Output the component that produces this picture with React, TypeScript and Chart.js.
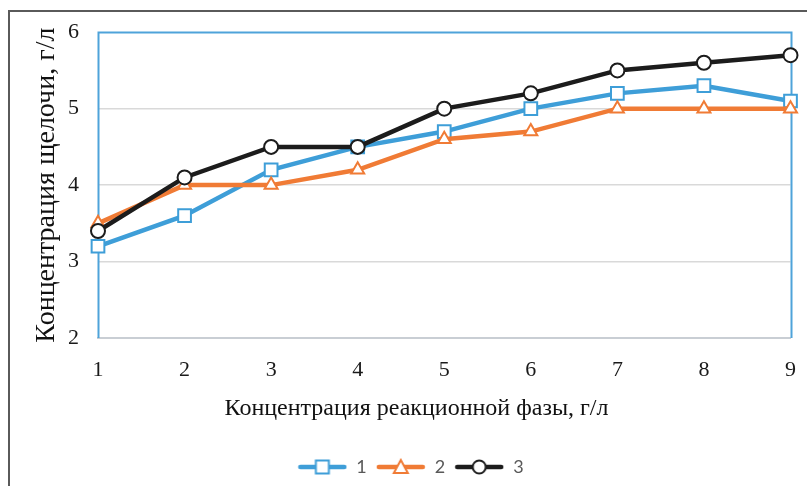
import React, { useEffect, useRef } from "react";
import { Chart, registerables } from "chart.js";

Chart.register(...registerables);

const categories = ["1", "2", "3", "4", "5", "6", "7", "8", "9"];
const series1 = [3.2, 3.6, 4.2, 4.5, 4.7, 5.0, 5.2, 5.3, 5.1];
const series2 = [3.5, 4.0, 4.0, 4.2, 4.6, 4.7, 5.0, 5.0, 5.0];
const series3 = [3.4, 4.1, 4.5, 4.5, 5.0, 5.2, 5.5, 5.6, 5.7];
const seriesNames = ["1", "2", "3"];
const yTitle = "Концентрация щелочи, г/л";
const xTitle = "Концентрация реакционной фазы, г/л";

const BLUE = "#3e9ed8";
const ORANGE = "#f07b35";
const BLACK = "#1c1c1c";
const SERIF = "'Liberation Serif', 'DejaVu Serif', serif";

function legendIcon(color: string, style: string): HTMLCanvasElement {
  const c = document.createElement("canvas");
  c.width = 50;
  c.height = 18;
  const ctx = c.getContext("2d")!;
  ctx.strokeStyle = color;
  ctx.lineWidth = 4.5;
  ctx.lineCap = "round";
  ctx.beginPath();
  ctx.moveTo(3, 9);
  ctx.lineTo(47, 9);
  ctx.stroke();
  ctx.fillStyle = "#fff";
  ctx.lineWidth = 2;
  ctx.lineCap = "butt";
  ctx.beginPath();
  if (style === "rect") {
    ctx.rect(18.5, 2.5, 13, 13);
  } else if (style === "triangle") {
    ctx.moveTo(25, 2);
    ctx.lineTo(32, 15);
    ctx.lineTo(18, 15);
    ctx.closePath();
  } else {
    ctx.arc(25, 9, 6.5, 0, Math.PI * 2);
  }
  ctx.fill();
  ctx.stroke();
  return c;
}

const framePlugin = {
  id: "framePlugin",
  beforeDraw(chart: any) {
    const ctx = chart.ctx;
    ctx.save();
    ctx.fillStyle = "#fff";
    ctx.fillRect(0, 0, chart.width, chart.height);
    ctx.strokeStyle = "#5a5a5a";
    ctx.lineWidth = 2;
    ctx.strokeRect(9, 11, 1000, 1000);
    ctx.restore();
  },
  beforeDatasetsDraw(chart: any) {
    const { ctx, chartArea } = chart;
    const l = Math.round(chartArea.left) + 0.5;
    const r = Math.round(chartArea.right) + 0.5;
    const t = Math.round(chartArea.top) + 0.5;
    const b = Math.round(chartArea.bottom);
    ctx.save();
    ctx.strokeStyle = "#4ea3da";
    ctx.lineWidth = 2;
    ctx.beginPath();
    ctx.moveTo(l, b);
    ctx.lineTo(l, t);
    ctx.lineTo(r, t);
    ctx.lineTo(r, b);
    ctx.stroke();
    ctx.restore();
  },
  afterDraw(chart: any) {
    const { ctx, chartArea } = chart;
    ctx.save();
    ctx.fillStyle = "#111";
    ctx.font = `24px ${SERIF}`;
    ctx.textAlign = "center";
    ctx.textBaseline = "middle";
    const cx = chartArea.left + chartArea.width * 0.46;
    ctx.fillText(xTitle, cx, chartArea.bottom + 71);
    ctx.restore();
  },
};

export default function App() {
  const ref = useRef<HTMLCanvasElement | null>(null);
  useEffect(() => {
    if (!ref.current) return;
    const colors = [BLUE, ORANGE, BLACK];
    const styles = ["rect", "triangle", "circle"];
    const icons = colors.map((c, i) => legendIcon(c, styles[i]));
    const mk = (label: string, data: number[], color: string, style: string, order: number, radius: number) => ({
      label,
      data,
      borderColor: color,
      backgroundColor: "#ffffff",
      borderWidth: 4.5,
      pointStyle: style,
      pointRadius: radius,
      pointBorderWidth: 2,
      pointBorderColor: color,
      pointBackgroundColor: "#ffffff",
      tension: 0,
      order,
    });
    const chart = new Chart(ref.current, {
      type: "line",
      data: {
        labels: categories,
        datasets: [
          mk(seriesNames[0], series1, BLUE, "rect", 3, 9),
          mk(seriesNames[1], series2, ORANGE, "triangle", 2, 7.5),
          mk(seriesNames[2], series3, BLACK, "circle", 1, 7),
        ],
      },
      options: {
        animation: false,
        responsive: false,
        layout: { padding: { left: 30, right: 16, top: 30, bottom: 0 } },
        plugins: {
          tooltip: { enabled: false },
          legend: {
            position: "bottom",
            labels: {
              usePointStyle: true,
              pointStyleWidth: 50,
              boxHeight: 18,
              padding: 9,
              color: "#595959",
              font: { family: "Lato, 'Open Sans', sans-serif", size: 18 },
              generateLabels: () =>
                seriesNames.map((n, i) => ({
                  text: n,
                  pointStyle: icons[i] as any,
                  fillStyle: "#fff",
                  strokeStyle: colors[i],
                  lineWidth: 0,
                  hidden: false,
                  datasetIndex: i,
                  fontColor: "#595959",
                })),
            },
          },
        },
        scales: {
          x: {
            type: "category",
            offset: false,
            grid: { display: false },
            border: { display: true, color: "#c9ced4", width: 2 },
            ticks: {
              color: "#1a1a1a",
              padding: 11,
              font: { family: SERIF, size: 22 },
              maxRotation: 0,
            },
            title: { display: false },
            afterFit: (s: any) => {
              s.height = 111;
            },
          },
          y: {
            min: 2,
            max: 6,
            grid: {
              drawTicks: false,
              color: (c: any) =>
                c.tick && (c.tick.value === 6 || c.tick.value === 2) ? "rgba(0,0,0,0)" : "#d9d9d9",
              lineWidth: 1.5,
            },
            border: { display: false },
            ticks: {
              stepSize: 1,
              color: "#1a1a1a",
              padding: 19,
              font: { family: SERIF, size: 22 },
            },
            title: {
              display: true,
              text: yTitle,
              color: "#111",
              padding: { top: 0, bottom: 0 },
              font: { family: SERIF, size: 28 },
            },
            afterFit: (s: any) => {
              s.width = 68;
            },
          },
        },
      } as any,
      plugins: [framePlugin],
    });
    return () => chart.destroy();
  }, []);
  return (
    <div style={{ position: "fixed", left: 0, top: 0, width: 807, height: 486, background: "#fff" }}>
      <canvas ref={ref} width={807} height={486} style={{ display: "block" }} />
    </div>
  );
}
